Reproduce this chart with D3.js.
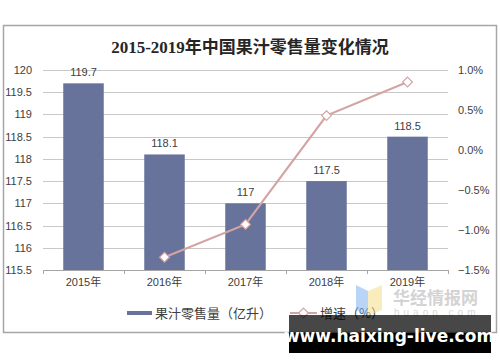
<!DOCTYPE html>
<html>
<head>
<meta charset="utf-8">
<script src="https://cdn.jsdelivr.net/npm/d3@7/dist/d3.min.js"></script>
<style>
  body { margin: 0; background: #fff; }
  svg { display: block; font-family: "Liberation Sans", Arial, "Noto Sans CJK SC", sans-serif; }
</style>
</head>
<body>
<svg id="chart" width="500" height="362"></svg>
<script>
// data
const years = ["2015年", "2016年", "2017年", "2018年", "2019年"];
const volume = [119.7, 118.1, 117, 117.5, 118.5];
const growth = [null, -1.34, -0.93, 0.43, 0.85];
const leftTicks = [115.5, 116, 116.5, 117, 117.5, 118, 118.5, 119, 119.5, 120];
const rightTicks = [-1.5, -1.0, -0.5, 0.0, 0.5, 1.0];

const svg = d3.select("#chart");
const margin = { top: 70, left: 43, right: 448, bottom: 270 };

// outer frame
svg.append("rect")
    .attr("x", 3.5).attr("y", 25.5)
    .attr("width", 493).attr("height", 307)
    .attr("fill", "#fff")
    .attr("stroke", "#a6a6a6")
    .attr("stroke-width", 1.5);

svg.append("text")
    .attr("x", 250).attr("y", 53)
    .attr("text-anchor", "middle")
    .attr("font-family", "'Liberation Serif', 'Noto Sans CJK SC', serif")
    .attr("font-weight", "bold")
    .attr("font-size", 17)
    .attr("fill", "#262626")
    .text("2015-2019年中国果汁零售量变化情况");

let x = d3.scaleBand().domain(years).range([margin.left, margin.right]).paddingInner(0.5).paddingOuter(0.25);
let y = d3.scaleLinear().domain([115.5, 120]).range([margin.bottom, margin.top]);
let y2 = d3.scaleLinear().domain([-1.5, 1.0]).range([margin.bottom, margin.top]);

// gridlines
svg.append("g")
    .selectAll("line")
    .data(leftTicks.slice(1))
    .join("line")
    .attr("x1", margin.left).attr("x2", margin.right)
    .attr("y1", d => Math.round(y(d)) + 0.5).attr("y2", d => Math.round(y(d)) + 0.5)
    .attr("stroke", "#c8c8c8");

// left axis labels
svg.append("g")
    .selectAll("text")
    .data(leftTicks)
    .join("text")
    .attr("x", 32).attr("y", d => y(d) + 4)
    .attr("text-anchor", "end")
    .attr("font-size", 11)
    .attr("fill", "#404040")
    .text(d => d);

// right axis labels
svg.append("g")
    .selectAll("text")
    .data(rightTicks)
    .join("text")
    .attr("x", 458).attr("y", d => y2(d) + 4)
    .attr("font-size", 11)
    .attr("fill", "#404040")
    .text(d => d3.format(".1f")(d) + "%");

// bars
svg.append("g")
    .selectAll("rect")
    .data(volume)
    .join("rect")
    .attr("x", (d, i) => x(years[i]))
    .attr("y", d => y(d))
    .attr("width", x.bandwidth())
    .attr("height", d => y(115.5) - y(d))
    .attr("fill", "#67739a");

svg.append("g")
    .selectAll("text")
    .data(volume)
    .join("text")
    .attr("x", (d, i) => x(years[i]) + x.bandwidth() / 2)
    .attr("y", d => y(d) - 7)
    .attr("text-anchor", "middle")
    .attr("font-size", 11)
    .attr("fill", "#404040")
    .text(d => d);

// x axis
const step = (margin.right - margin.left) / years.length;
svg.append("line")
    .attr("x1", margin.left).attr("x2", margin.right)
    .attr("y1", margin.bottom + 0.5).attr("y2", margin.bottom + 0.5)
    .attr("stroke", "#a6a6a6");
svg.append("g")
    .selectAll("line")
    .data(d3.range(years.length + 1))
    .join("line")
    .attr("x1", i => margin.left + i * step + 0.5).attr("x2", i => margin.left + i * step + 0.5)
    .attr("y1", margin.bottom).attr("y2", margin.bottom + 4)
    .attr("stroke", "#a6a6a6");
svg.append("g")
    .selectAll("text")
    .data(years)
    .join("text")
    .attr("x", d => x(d) + x.bandwidth() / 2)
    .attr("y", 286)
    .attr("text-anchor", "middle")
    .attr("font-size", 11)
    .attr("fill", "#404040")
    .text(d => d);

// growth line
const pts = growth.map((g, i) => ({ g, yr: years[i] })).filter(d => d.g !== null);
const line = d3.line()
    .x(d => x(d.yr) + x.bandwidth() / 2)
    .y(d => y2(d.g));
svg.append("path")
    .datum(pts)
    .attr("d", line)
    .attr("fill", "none")
    .attr("stroke", "#d4a4a4")
    .attr("stroke-width", 2.2);

const diamond = d3.symbol().type(d3.symbolDiamond2).size(60);
svg.append("g")
    .selectAll("path")
    .data(pts)
    .join("path")
    .attr("transform", d => "translate(" + (x(d.yr) + x.bandwidth() / 2) + "," + y2(d.g) + ")")
    .attr("d", diamond)
    .attr("fill", "#fff")
    .attr("stroke", "#d4a4a4")
    .attr("stroke-width", 1.2);

// legend
const lg = svg.append("g");
lg.append("rect").attr("x", 127).attr("y", 311).attr("width", 25).attr("height", 4).attr("fill", "#67739a");
lg.append("text").attr("x", 155).attr("y", 318)
    .attr("font-family", "'Noto Sans CJK SC', sans-serif")
    .attr("font-size", 13).attr("fill", "#404040")
    .text("果汁零售量（亿升）");
lg.append("line").attr("x1", 290).attr("x2", 317).attr("y1", 313).attr("y2", 313)
    .attr("stroke", "#d4a4a4").attr("stroke-width", 2);
lg.append("path").attr("transform", "translate(303.5,313)").attr("d", diamond)
    .attr("fill", "#fff").attr("stroke", "#d4a4a4").attr("stroke-width", 1.2);
lg.append("text").attr("x", 320).attr("y", 318)
    .attr("font-family", "'Noto Sans CJK SC', sans-serif")
    .attr("font-size", 13).attr("fill", "#404040")
    .text("增速（%）");

// watermark
const wm = svg.append("g").attr("opacity", 0.55);
wm.append("path").attr("d", "M356,285 L368,291 L368,316 L356,310 Z").attr("fill", "#7fb2f0");
wm.append("path").attr("d", "M368,291 L382,285 L382,310 L368,316 Z").attr("fill", "#f5e08a");
wm.append("text").attr("x", 393).attr("y", 304)
    .attr("font-family", "'Noto Sans CJK SC', sans-serif")
    .attr("font-size", 17).attr("font-weight", "bold").attr("fill", "#b0b0b0")
    .text("华经情报网");
wm.append("text").attr("x", 394).attr("y", 316)
    .attr("font-size", 10).attr("letter-spacing", 4).attr("fill", "#b8b8b8")
    .text("huaon.com");

svg.append("rect").attr("x", 289).attr("y", 315).attr("width", 202).attr("height", 18)
    .attr("fill", "#000").attr("opacity", 0.72);
svg.append("rect").attr("x", 289).attr("y", 333).attr("width", 202).attr("height", 20)
    .attr("fill", "#000");
svg.append("text").attr("x", 389).attr("y", 342)
    .attr("text-anchor", "middle")
    .attr("font-family", "'DejaVu Sans', sans-serif")
    .attr("font-weight", "bold").attr("font-size", 17).attr("fill", "#fff")
    .text("www.haixing-live.com");
</script>
</body>
</html>
